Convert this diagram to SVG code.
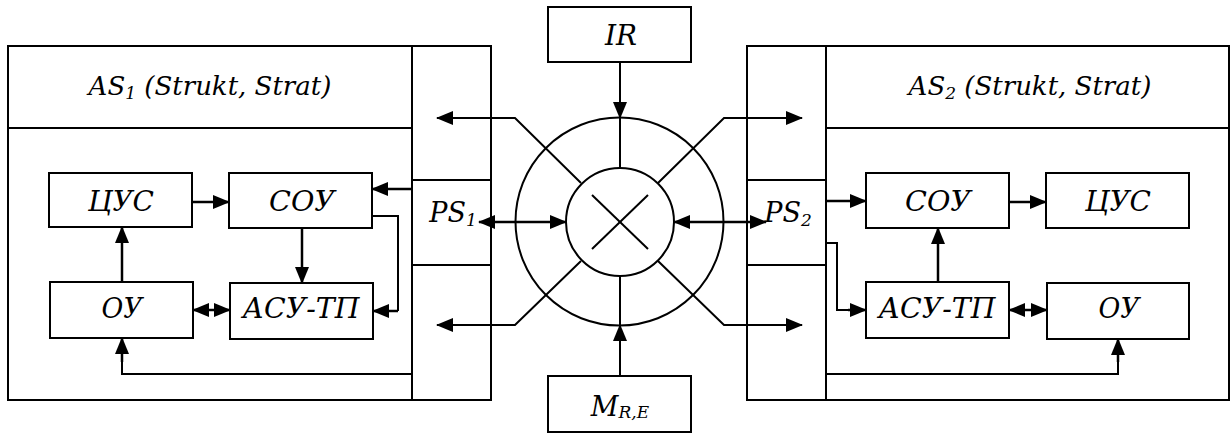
<svg xmlns="http://www.w3.org/2000/svg" width="1232" height="433" viewBox="0 0 1232 433">
<style>
.box{fill:#fff;stroke:#000;stroke-width:2}
.ln{fill:none;stroke:#000;stroke-width:2}
.cn{fill:none;stroke:#000;stroke-width:2.5}
.dg{fill:none;stroke:#000;stroke-width:2}
text{font-family:"DejaVu Serif",serif;font-style:italic;font-size:27px;fill:#000;text-anchor:middle}
.hd{font-size:26px}
.sub{font-size:17px}
</style>
<defs>
<marker id="ah" viewBox="0 0 17 14" refX="16" refY="7" markerWidth="17" markerHeight="14" markerUnits="userSpaceOnUse" orient="auto-start-reverse">
<path d="M0,0 L17,7 L0,14 z" fill="#000"/>
</marker>
</defs>
<rect width="1232" height="433" fill="#fff"/>

<g id="AS1">
<rect class="box" x="8" y="46" width="483" height="354"/>
<line class="ln" x1="412" y1="46" x2="412" y2="400"/>
<line class="ln" x1="8" y1="128" x2="412" y2="128"/>
<text class="hd" x="210" y="95">AS<tspan class="sub" dy="4">1</tspan><tspan dy="-4"> (Strukt, Strat)</tspan></text>
</g>
<g id="PS1">
<line class="ln" x1="412" y1="180" x2="491" y2="180"/>
<line class="ln" x1="412" y1="265" x2="491" y2="265"/>
<text x="453" y="222">PS<tspan class="sub" dy="4">1</tspan></text>
</g>
<g id="AS2">
<rect class="box" x="747" y="46" width="482" height="354"/>
<line class="ln" x1="826" y1="46" x2="826" y2="400"/>
<line class="ln" x1="826" y1="128" x2="1229" y2="128"/>
<text class="hd" x="1030" y="95">AS<tspan class="sub" dy="4">2</tspan><tspan dy="-4"> (Strukt, Strat)</tspan></text>
</g>
<g id="PS2">
<line class="ln" x1="747" y1="180" x2="826" y2="180"/>
<line class="ln" x1="747" y1="265" x2="826" y2="265"/>
<text x="788" y="222">PS<tspan class="sub" dy="4">2</tspan></text>
</g>

<g id="L_CUS"><rect class="box" x="49" y="173" width="143" height="54"/><text x="121" y="211" textLength="66" lengthAdjust="spacingAndGlyphs">ЦУС</text></g>
<g id="L_SOU"><rect class="box" x="229" y="173" width="143" height="55"/><text x="302" y="211" textLength="66" lengthAdjust="spacingAndGlyphs">СОУ</text></g>
<g id="L_OU"><rect class="box" x="50" y="282" width="143" height="56"/><text x="122" y="318" textLength="41" lengthAdjust="spacingAndGlyphs">ОУ</text></g>
<g id="L_ASU"><rect class="box" x="230" y="283" width="143" height="56"/><text x="301" y="318" textLength="117" lengthAdjust="spacingAndGlyphs">АСУ-ТП</text></g>

<g id="R_SOU"><rect class="box" x="866" y="173" width="143" height="55"/><text x="938" y="211" textLength="66" lengthAdjust="spacingAndGlyphs">СОУ</text></g>
<g id="R_CUS"><rect class="box" x="1046" y="173" width="143" height="55"/><text x="1118" y="211" textLength="66" lengthAdjust="spacingAndGlyphs">ЦУС</text></g>
<g id="R_ASU"><rect class="box" x="866" y="282" width="143" height="56"/><text x="937" y="318" textLength="117" lengthAdjust="spacingAndGlyphs">АСУ-ТП</text></g>
<g id="R_OU"><rect class="box" x="1047" y="283" width="142" height="56"/><text x="1119" y="318" textLength="41" lengthAdjust="spacingAndGlyphs">ОУ</text></g>

<g id="IR"><rect class="box" x="548" y="7" width="143" height="55"/><text x="621" y="45" textLength="32" lengthAdjust="spacingAndGlyphs">IR</text></g>
<g id="M"><rect class="box" x="548" y="376" width="143" height="56"/><text x="620" y="416">M<tspan class="sub" dy="2">R,E</tspan></text></g>

<g id="hub">
<circle class="ln" cx="619.5" cy="221.5" r="104"/>
<circle class="ln" cx="620" cy="222" r="54"/>
<line class="ln" x1="592" y1="195" x2="648" y2="249"/>
<line class="ln" x1="648" y1="195" x2="592" y2="249"/>
</g>

<g id="connectors">
<path class="cn" d="M192,202 H229" marker-end="url(#ah)"/>
<path class="cn" d="M412,189 H372" marker-end="url(#ah)"/>
<path class="ln" d="M372,216 H398 V311"/>
<path class="cn" d="M398,311 H373" marker-end="url(#ah)"/>
<path class="cn" d="M302,228 V283" marker-end="url(#ah)"/>
<path class="cn" d="M122,282 V227" marker-end="url(#ah)"/>
<path class="cn" d="M193,310 H230" marker-start="url(#ah)" marker-end="url(#ah)"/>
<path class="ln" d="M412,374 H122 V360"/>
<path class="cn" d="M122,362 V338" marker-end="url(#ah)"/>

<path class="cn" d="M826,201 H866" marker-end="url(#ah)"/>
<path class="cn" d="M1009,202 H1046" marker-end="url(#ah)"/>
<path class="cn" d="M938,282 V228" marker-end="url(#ah)"/>
<path class="ln" d="M826,243 H837 V310 H850"/>
<path class="cn" d="M848,310 H866" marker-end="url(#ah)"/>
<path class="cn" d="M1009,310 H1047" marker-start="url(#ah)" marker-end="url(#ah)"/>
<path class="ln" d="M826,374 H1118 V360"/>
<path class="cn" d="M1118,362 V339" marker-end="url(#ah)"/>

<path class="ln" d="M620,62 V100"/>
<path class="ln" d="M620,98 V118" marker-end="url(#ah)"/>
<line class="ln" x1="620" y1="118" x2="620" y2="168"/>
<path class="ln" d="M620,376 V340"/>
<path class="ln" d="M620,342 V325" marker-end="url(#ah)"/>
<line class="ln" x1="620" y1="325" x2="620" y2="276"/>

<path class="dg" d="M581,183 L515,118 H437" marker-end="url(#ah)"/>
<path class="dg" d="M658,183 L724,118 H802" marker-end="url(#ah)"/>
<path class="dg" d="M581,261 L515,325 H437" marker-end="url(#ah)"/>
<path class="dg" d="M658,261 L724,325 H802" marker-end="url(#ah)"/>

<path class="cn" d="M479,222 H566" marker-start="url(#ah)" marker-end="url(#ah)"/>
<path class="cn" d="M674,222 H766" marker-start="url(#ah)" marker-end="url(#ah)"/>
</g>
</svg>
